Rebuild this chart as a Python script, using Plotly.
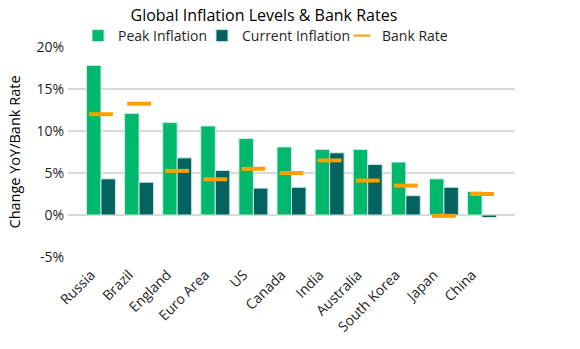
import plotly.graph_objects as go

countries = ["Russia", "Brazil", "England", "Euro Area", "US", "Canada",
             "India", "Australia", "South Korea", "Japan", "China"]
peak_inflation = [17.8, 12.1, 11.0, 10.6, 9.1, 8.1, 7.8, 7.8, 6.3, 4.3, 2.8]
current_inflation = [4.3, 3.9, 6.8, 5.3, 3.2, 3.3, 7.4, 6.0, 2.3, 3.3, -0.3]
bank_rate = [12.0, 13.25, 5.25, 4.25, 5.5, 5.0, 6.5, 4.1, 3.5, -0.1, 2.5]
y_ticks = [-5, 0, 5, 10, 15, 20]
y_tick_labels = [f"{v}%" for v in y_ticks]

FONT = "Open Sans"
DARK = "#1f1f1f"

fig = go.Figure()
fig.add_trace(go.Bar(
    name="Peak Inflation", x=countries, y=peak_inflation, legend="legend",
    marker=dict(color="#00B86D", line=dict(color="#c9eedd", width=1)),
))
fig.add_trace(go.Bar(
    name="Current Inflation", x=countries, y=current_inflation, legend="legend2",
    marker=dict(color="#036361", line=dict(color="#c9e6e2", width=1)),
))
fig.add_trace(go.Scatter(
    name="Bank Rate", x=countries, y=bank_rate, mode="markers", legend="legend3",
    marker=dict(symbol="line-ew", size=17, color="#FFA000",
                line=dict(color="#FFA000", width=4)),
))

# one small legend per series so the entries sit tightly in a row
def legend_at(x_px, sizing="trace"):
    return dict(orientation="h", x=x_px / 580, xref="container", xanchor="left",
                y=1 - 36 / 349, yref="container", yanchor="middle",
                font=dict(family=FONT, size=14, color=DARK),
                itemsizing=sizing, bgcolor="rgba(0,0,0,0)", borderwidth=0)

fig.update_layout(
    width=580, height=349,
    margin=dict(l=68, r=65, t=47, b=92, autoexpand=False),
    paper_bgcolor="white", plot_bgcolor="white",
    font=dict(family=FONT, size=14, color=DARK),
    barmode="group", bargap=0.24, bargroupgap=0,
    title=dict(text="Global Inflation Levels & Bank Rates",
               x=0.455, xref="container", xanchor="center",
               y=1 - 15.5 / 349, yref="container", yanchor="middle",
               font=dict(family=FONT, size=16, color="#000000")),
    legend=legend_at(120 - 42),
    legend2=legend_at(244 - 42),
    legend3=legend_at(384 - 42, "constant"),
    showlegend=True,
)
fig.update_xaxes(tickangle=-45, showgrid=False, showline=False, ticks="",
                 ticklabelshift=-10, ticklabelstandoff=6,
                 tickfont=dict(family=FONT, size=14, color=DARK))
fig.update_yaxes(range=[-5, 20], tickvals=y_ticks, ticktext=y_tick_labels,
                 showgrid=True, gridcolor="#d9d9d9", gridwidth=1.5,
                 zeroline=True, zerolinecolor="#d9d9d9", zerolinewidth=1.5,
                 ticks="", ticklabelstandoff=3,
                 tickfont=dict(family=FONT, size=14, color=DARK),
                 title=dict(text="Change YoY/Bank Rate", standoff=12,
                            font=dict(family=FONT, size=14.5, color="#000000")))

fig.write_html("out.html")
